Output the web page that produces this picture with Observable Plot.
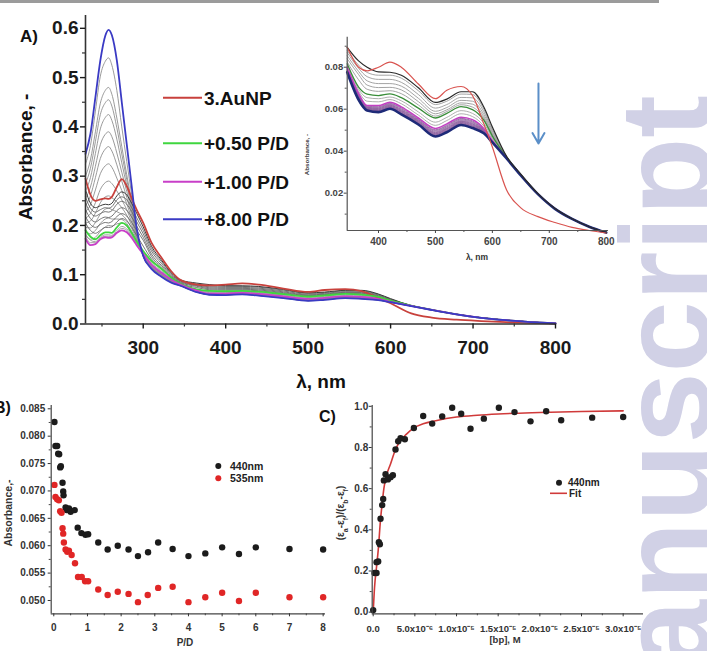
<!DOCTYPE html>
<html><head><meta charset="utf-8">
<script src="https://cdn.jsdelivr.net/npm/d3@7"></script>
<script src="https://cdn.jsdelivr.net/npm/@observablehq/plot@0.6"></script>
<style>
html,body{margin:0;padding:0;background:#fff;}
#fig{position:relative;width:707px;height:651px;overflow:hidden;background:#fff;font-family:"Liberation Sans",Arial,sans-serif;}
#fig svg{position:absolute;left:0;top:0;}
</style></head><body><div id="fig"></div>
<script>
// ---------- Panel A data: UV-Vis spectra ----------
const wavelengths = [230,236,242,248,254,258,262,268,274,280,286,292,300,310,322,334,345,365,380,400,420,440,470,500,520,545,565,585,600,625,650,680,710,740,770,800];
const absRed = [.295,.262,.250,.253,.255,.254,.258,.278,.294,.280,.255,.232,.205,.165,.135,.107,.0895,.0800,.0783,.0800,.0824,.0800,.0720,.0650,.0690,.0708,.0665,.0530,.0420,.0215,.0130,.0088,.0060,.0037,.0022,.0010];
const absGreen = [.190,.177,.172,.180,.186,.186,.185,.196,.205,.200,.185,.168,.148,.128,.112,.094,.0816,.0705,.0672,.0665,.0673,.0655,.0605,.0558,.0580,.0612,.0598,.0548,.0472,.0372,.0287,.0197,.0126,.0077,.0040,.0012];
const absMagenta = [.173,.160,.162,.172,.176,.175,.176,.185,.190,.186,.175,.160,.142,.120,.104,.090,.0800,.0675,.0617,.0617,.0633,.0611,.0558,.0508,.0530,.0562,.0550,.0508,.0450,.0368,.0286,.0196,.0126,.0077,.0040,.0012];
const absBlue = [.345,.386,.460,.535,.585,.597,.586,.535,.450,.365,.280,.195,.138,.112,.096,.084,.0776,.0645,.0594,.0586,.0602,.0575,.0527,.0470,.0490,.0525,.0510,.0485,.0442,.0365,.0284,.0195,.0125,.0077,.0040,.0012];
const absBlack = [.272,.245,.236,.240,.243,.242,.245,.260,.268,.262,.245,.225,.197,.158,.130,.104,.0895,.0830,.0800,.0778,.0776,.0762,.0702,.0632,.0648,.0683,.0683,.0610,.0515,.0375,.0290,.0198,.0127,.0078,.0040,.0012];
// titrations between 3.AuNP and +0.50 P/D
const absGrayA = [
 [.258,.235,.227,.232,.236,.235,.238,.252,.258,.252,.236,.216,.190,.153,.127,.102,.0880,.0810,.0775,.0762,.0762,.0748,.0688,.0622,.0638,.0672,.0670,.0600,.0505,.0374,.0289,.0198,.0127,.0078,.0040,.0012],
 [.246,.226,.219,.224,.228,.227,.230,.243,.249,.243,.228,.208,.183,.148,.123,.100,.0870,.0795,.0755,.0742,.0742,.0728,.0670,.0605,.0622,.0656,.0654,.0588,.0497,.0373,.0288,.0197,.0127,.0078,.0040,.0012],
 [.232,.214,.207,.213,.217,.216,.219,.230,.236,.231,.217,.199,.176,.142,.119,.098,.0855,.0780,.0735,.0722,.0722,.0710,.0652,.0590,.0608,.0642,.0638,.0575,.0488,.0373,.0287,.0197,.0126,.0077,.0040,.0012],
 [.218,.202,.196,.202,.206,.205,.208,.218,.224,.219,.206,.190,.170,.137,.116,.096,.0840,.0765,.0715,.0703,.0704,.0692,.0636,.0578,.0597,.0630,.0624,.0564,.0481,.0372,.0287,.0196,.0126,.0077,.0040,.0012],
 [.205,.190,.184,.190,.196,.196,.197,.207,.214,.209,.196,.180,.158,.132,.113,.095,.0825,.0740,.0695,.0685,.0688,.0674,.0620,.0567,.0589,.0621,.0610,.0556,.0476,.0372,.0286,.0196,.0126,.0077,.0040,.0012]
];
// between +0.50 and +1.00 P/D
const absGrayB = [
 [.183,.170,.167,.176,.181,.181,.180,.190,.198,.193,.180,.164,.145,.124,.108,.092,.0810,.0695,.0655,.0650,.0658,.0640,.0587,.0538,.0561,.0593,.0580,.0533,.0463,.0370,.0286,.0196,.0126,.0077,.0040,.0012],
 [.178,.165,.165,.174,.178,.178,.178,.187,.194,.190,.178,.162,.143,.122,.106,.091,.0805,.0685,.0638,.0635,.0646,.0626,.0572,.0523,.0546,.0578,.0565,.0520,.0457,.0369,.0286,.0196,.0126,.0077,.0040,.0012]
];
// between +1.00 and +8.00 P/D
const absGrayC = [
 [.180,.172,.176,.188,.197,.200,.199,.203,.205,.198,.183,.165,.141,.118,.102,.089,.0796,.0670,.0614,.0612,.0628,.0606,.0553,.0502,.0524,.0556,.0544,.0505,.0449,.0368,.0285,.0196,.0126,.0077,.0040,.0012],
 [.188,.183,.190,.204,.213,.215,.213,.213,.212,.204,.188,.169,.140,.117,.101,.088,.0794,.0668,.0611,.0609,.0625,.0602,.0550,.0499,.0520,.0553,.0540,.0502,.0448,.0367,.0285,.0196,.0126,.0077,.0040,.0012],
 [.196,.195,.206,.223,.233,.235,.232,.228,.222,.211,.194,.172,.140,.116,.100,.088,.0792,.0665,.0609,.0606,.0622,.0598,.0547,.0495,.0516,.0549,.0536,.0500,.0447,.0367,.0285,.0196,.0126,.0077,.0040,.0012],
 [.205,.209,.225,.246,.258,.260,.256,.248,.236,.221,.200,.175,.140,.116,.100,.087,.0789,.0662,.0607,.0603,.0619,.0595,.0544,.0491,.0512,.0545,.0532,.0498,.0446,.0367,.0285,.0196,.0126,.0077,.0040,.0012],
 [.215,.224,.246,.273,.287,.290,.285,.270,.252,.232,.207,.178,.139,.115,.099,.087,.0787,.0659,.0605,.0601,.0617,.0592,.0542,.0488,.0509,.0542,.0529,.0496,.0446,.0366,.0285,.0196,.0126,.0077,.0040,.0012],
 [.228,.242,.272,.305,.321,.325,.318,.296,.271,.244,.214,.181,.139,.115,.099,.086,.0786,.0657,.0603,.0598,.0614,.0589,.0539,.0485,.0506,.0540,.0526,.0494,.0445,.0366,.0285,.0196,.0126,.0077,.0040,.0012],
 [.240,.260,.297,.336,.355,.360,.351,.323,.290,.257,.221,.184,.139,.114,.098,.086,.0784,.0655,.0602,.0596,.0612,.0587,.0537,.0483,.0503,.0537,.0523,.0493,.0445,.0366,.0285,.0196,.0126,.0077,.0040,.0012],
 [.255,.278,.320,.364,.385,.390,.380,.347,.308,.269,.228,.186,.139,.114,.098,.086,.0782,.0653,.0600,.0594,.0610,.0584,.0535,.0480,.0500,.0535,.0520,.0491,.0444,.0366,.0285,.0196,.0126,.0077,.0040,.0012],
 [.270,.297,.346,.396,.419,.425,.413,.375,.327,.281,.235,.189,.138,.114,.098,.085,.0781,.0651,.0599,.0592,.0608,.0582,.0533,.0478,.0498,.0532,.0518,.0490,.0444,.0366,.0285,.0196,.0126,.0077,.0040,.0012],
 [.285,.316,.370,.425,.449,.455,.442,.398,.345,.293,.242,.190,.138,.113,.097,.085,.0779,.0649,.0597,.0590,.0606,.0580,.0531,.0475,.0496,.0530,.0516,.0488,.0443,.0365,.0285,.0196,.0126,.0077,.0040,.0012],
 [.300,.333,.390,.448,.474,.480,.466,.418,.360,.303,.248,.191,.138,.113,.097,.085,.0778,.0648,.0596,.0589,.0605,.0578,.0530,.0473,.0494,.0528,.0514,.0487,.0443,.0365,.0285,.0196,.0126,.0077,.0040,.0012],
 [.325,.362,.432,.503,.533,.540,.525,.474,.400,.330,.262,.193,.138,.113,.097,.084,.0777,.0646,.0595,.0588,.0604,.0577,.0529,.0472,.0492,.0527,.0512,.0486,.0442,.0365,.0285,.0196,.0126,.0077,.0040,.0012]
];
const legendLabelsA = ["3.AuNP", "+0.50 P/D", "+1.00 P/D", "+8.00 P/D"];
const aXTicks = [300,400,500,600,700,800];
const aXMinor = [250,350,450,550,650,750];
const aYTicks = [0,0.1,0.2,0.3,0.4,0.5,0.6];
const aYMinor = [0.05,0.15,0.25,0.35,0.45,0.55];
const insetXTicks = [400,500,600,700,800];
const insetXMinor = [450,550,650,750];
const insetYTicks = [0.02,0.04,0.06,0.08];
const insetYMinor = [0.01,0.03,0.05,0.07,0.09];
const insetArrow = [{lambda: 681, from: 0.0722, to: 0.0437}];

// ---------- Panel B data ----------
const pd440 = [0.02,0.05,0.10,0.13,0.16,0.19,0.21,0.26,0.28,0.29,0.35,0.38,0.45,0.50,0.62,0.71,0.82,0.94,1.02,1.32,1.60,1.90,2.22,2.50,2.80,3.10,3.53,4.00,4.50,5.00,5.50,6.00,7.00,8.00];
const abs440 = [0.0826,0.0782,0.0782,0.0768,0.0767,0.0743,0.0745,0.0715,0.0699,0.0692,0.0670,0.0665,0.0668,0.0662,0.0665,0.0633,0.0623,0.0620,0.0621,0.0606,0.0593,0.0600,0.0593,0.0581,0.0588,0.0606,0.0594,0.0581,0.0586,0.0597,0.0585,0.0597,0.0594,0.0593];
const pd535 = [0.02,0.05,0.10,0.15,0.19,0.23,0.26,0.28,0.30,0.35,0.40,0.45,0.53,0.63,0.72,0.83,0.93,1.02,1.32,1.60,1.90,2.22,2.50,2.79,3.10,3.53,4.00,4.50,5.00,5.50,6.00,7.00,8.00];
const abs535 = [0.0711,0.0689,0.0685,0.0683,0.0663,0.0660,0.0632,0.0622,0.0606,0.0593,0.0589,0.0591,0.0583,0.0568,0.0543,0.0543,0.0535,0.0535,0.0520,0.0510,0.0516,0.0512,0.0497,0.0510,0.0523,0.0525,0.0497,0.0506,0.0514,0.0499,0.0514,0.0506,0.0506];
const bXTicks = [0,1,2,3,4,5,6,7,8];
const bXMinor = [0.5,1.5,2.5,3.5,4.5,5.5,6.5,7.5];
const bYTicks = [0.050,0.055,0.060,0.065,0.070,0.075,0.080,0.085];
const bYMinor = [0.0525,0.0575,0.0625,0.0675,0.0725,0.0775,0.0825];

// ---------- Panel C data ----------
const bpConc = [0,0.16e-6,0.40e-6,0.40e-6,0.60e-6,0.68e-6,0.80e-6,0.88e-6,1.08e-6,1.20e-6,1.28e-6,1.48e-6,1.76e-6,2.08e-6,2.36e-6,2.68e-6,3.00e-6,3.28e-6,3.80e-6,4.88e-6,6.00e-6,7.08e-6,8.28e-6,9.48e-6,10.56e-6,11.68e-6,13.28e-6,15.08e-6,16.96e-6,18.88e-6,20.76e-6,22.56e-6,26.28e-6,30.00e-6];
const ratio440 = [0.01,0.19,0.19,0.243,0.246,0.34,0.33,0.454,0.52,0.55,0.64,0.67,0.645,0.656,0.665,0.79,0.83,0.845,0.84,0.895,0.953,0.916,0.951,0.993,0.964,0.891,0.94,0.993,0.972,0.927,0.976,0.932,0.945,0.948];
const fitConc = [0,0.16e-6,0.40e-6,0.60e-6,0.88e-6,1.08e-6,1.28e-6,1.50e-6,2.08e-6,2.68e-6,3.28e-6,4.00e-6,4.88e-6,6.00e-6,7.50e-6,10e-6,12.5e-6,15e-6,20e-6,25e-6,30e-6];
const fitRatio = [0,0.12,0.22,0.30,0.45,0.53,0.60,0.65,0.72,0.79,0.835,0.865,0.895,0.915,0.93,0.948,0.957,0.963,0.97,0.975,0.978];
const cXTicks = [0,5e-6,1e-5,1.5e-5,2e-5,2.5e-5,3e-5];
const cXLabels = ["0.0","5.0x10\u207B\u2076","1.0x10\u207B\u2075","1.5x10\u207B\u2075","2.0x10\u207B\u2075","2.5x10\u207B\u2075","3.0x10\u207B\u2075"];
const cXMinor = [2.5e-6,7.5e-6,1.25e-5,1.75e-5,2.25e-5,2.75e-5];
const cYTicks = [0,0.2,0.4,0.6,0.8,1.0];
const cYMinor = [0.1,0.3,0.5,0.7,0.9];

// ---------- helpers ----------
const FONT = '"Liberation Sans", Arial, sans-serif';
const AX = "#333";
function toRows(list, minWl) {
  const out = [];
  list.forEach((vals, k) => vals.forEach((a, i) => {
    if (wavelengths[i] >= minWl) out.push({wl: wavelengths[i], a, id: k});
  }));
  return out;
}
const baseStyle = {fontFamily: FONT, fontWeight: "bold", background: "none", overflow: "visible", color: "#1a1a1a"};
const fig = document.getElementById("fig");
const blank = () => "";

// ---------- Panel A main ----------
const L = (list, minWl, stroke, w) => Plot.line(toRows(list, minWl), {x: "wl", y: "a", z: "id", stroke, strokeWidth: w, curve: "monotone-x"});
const plotA = Plot.plot({
  width: 707, height: 400,
  marginLeft: 85, marginRight: 152, marginTop: 15, marginBottom: 76.5,
  style: baseStyle,
  x: {domain: [230, 800]},
  y: {domain: [0, 0.626]},
  marks: [
    L(absGrayC, 0, "#8e8e8e", 0.9),
    L(absGrayB, 0, "#9a9a9a", 0.9),
    L(absGrayA, 0, "#666", 0.9),
    L([absBlack], 0, "#3a3a3a", 1),
    L([absRed], 0, "#c8413c", 1.8),
    L([absGreen], 0, "#3fd63f", 1.8),
    L([absMagenta], 0, "#c83fc8", 1.8),
    L([absBlue], 0, "#3a3ac4", 1.8),
    Plot.ruleX([230], {stroke: AX, strokeWidth: 1.6}),
    Plot.ruleY([0], {stroke: AX, strokeWidth: 1.6}),
    Plot.axisY({ticks: aYTicks, tickSize: 5, tickPadding: 2, fontSize: 19, tickFormat: d3.format(".1f"), label: null, strokeWidth: 1.4, color: "#1a1a1a"}),
    Plot.axisY({ticks: aYMinor, tickSize: 3, tickFormat: blank, label: null, strokeWidth: 1.2, color: AX}),
    Plot.axisX({ticks: aXTicks, tickSize: 5, tickPadding: 11, fontSize: 19, tickFormat: d3.format("d"), label: null, strokeWidth: 1.4, color: "#1a1a1a"}),
    Plot.axisX({ticks: aXMinor, tickSize: 3, tickFormat: blank, label: null, strokeWidth: 1.2, color: AX})
  ]
});
fig.appendChild(plotA);

// ---------- Panel A inset ----------
const plotInset = Plot.plot({
  width: 707, height: 300,
  marginLeft: 346.7, marginRight: 99, marginTop: 36.7, marginBottom: 70,
  style: baseStyle,
  x: {domain: [345, 804]},
  y: {domain: [0.0022, 0.0943]},
  marks: [
    L(absGrayC, 345, "#8a5a9a", 0.8),
    L(absGrayB, 345, "#a6a6a6", 0.9),
    L(absGrayA, 345, "#9a9a9a", 0.9),
    L([absGreen], 345, "#3a8e3a", 1.3),
    L([absMagenta], 345, "#c23fc2", 1.5),
    L([absBlue], 345, "#1e2a78", 2.6),
    L([absBlack], 345, "#2a2a2a", 1.2),
    L([absRed], 345, "#d9534f", 1.2),
    Plot.arrow(insetArrow, {x1: "lambda", x2: "lambda", y1: "from", y2: "to", stroke: "#5b8fc8", strokeWidth: 2, headLength: 9, headAngle: 60}),
    Plot.ruleX([345], {stroke: "#555", strokeWidth: 1.2}),
    Plot.ruleY([0.0022], {stroke: "#555", strokeWidth: 1.2}),
    Plot.axisY({ticks: insetYTicks, tickSize: 3, tickPadding: 1, fontSize: 9.5, tickFormat: d3.format(".2f"), label: null, color: "#444"}),
    Plot.axisY({ticks: insetYMinor, tickSize: 2, tickFormat: blank, label: null, color: "#555"}),
    Plot.axisX({ticks: insetXTicks, tickSize: 3, tickPadding: 4, fontSize: 10, tickFormat: d3.format("d"), label: null, color: "#444"}),
    Plot.axisX({ticks: insetXMinor, tickSize: 2, tickFormat: blank, label: null, color: "#555"})
  ]
});
fig.appendChild(plotInset);

// ---------- Panel B ----------
const plotB = Plot.plot({
  width: 707, height: 651,
  marginLeft: 50.7, marginRight: 382, marginTop: 405, marginBottom: 37.7,
  style: baseStyle,
  x: {domain: [-0.077, 8.07]},
  y: {domain: [0.04757, 0.0856]},
  marks: [
    Plot.dot(pd440.map((p, i) => ({p, a: abs440[i]})), {x: "p", y: "a", r: 3.2, fill: "#1b1b1b"}),
    Plot.dot(pd535.map((p, i) => ({p, a: abs535[i]})), {x: "p", y: "a", r: 3.2, fill: "#e02626"}),
    Plot.ruleX([-0.077], {stroke: "#444", strokeWidth: 1.2}),
    Plot.ruleY([0.04757], {stroke: "#444", strokeWidth: 1.2}),
    Plot.axisY({ticks: bYTicks, tickSize: 3, tickPadding: 3, fontSize: 10, tickFormat: d3.format(".3f"), label: null, color: "#333"}),
    Plot.axisY({ticks: bYMinor, tickSize: 2, tickFormat: blank, label: null, color: "#444"}),
    Plot.axisX({ticks: bXTicks, tickSize: 3, tickPadding: 7, fontSize: 10, tickFormat: d3.format("d"), label: null, color: "#333"}),
    Plot.axisX({ticks: bXMinor, tickSize: 2, tickFormat: blank, label: null, color: "#444"})
  ]
});
fig.appendChild(plotB);

// ---------- Panel C ----------
const plotC = Plot.plot({
  width: 707, height: 651,
  marginLeft: 371.7, marginRight: 64, marginTop: 405, marginBottom: 37.7,
  style: baseStyle,
  x: {domain: [-1.2e-7, 3.244e-5]},
  y: {domain: [-0.008, 1.004]},
  marks: [
    Plot.line(fitConc.map((c, i) => ({c, r: fitRatio[i]})), {x: "c", y: "r", stroke: "#d03a3a", strokeWidth: 1.6, curve: "monotone-x"}),
    Plot.dot(bpConc.map((c, i) => ({c, r: ratio440[i]})), {x: "c", y: "r", r: 3.2, fill: "#1e1e1e"}),
    Plot.ruleX([-1.2e-7], {stroke: "#444", strokeWidth: 1.2}),
    Plot.ruleY([-0.008], {stroke: "#444", strokeWidth: 1.2}),
    Plot.axisY({ticks: cYTicks, tickSize: 3, tickPadding: 1, fontSize: 10, tickFormat: d3.format(".1f"), label: null, color: "#333"}),
    Plot.axisY({ticks: cYMinor, tickSize: 2, tickFormat: blank, label: null, color: "#444"}),
    Plot.axisX({ticks: cXTicks, tickSize: 3, tickPadding: 8, fontSize: 9.5,
      tickFormat: d => cXLabels[cXTicks.findIndex(t => Math.abs(t - d) < 1e-10)], label: null, color: "#333"}),
    Plot.axisX({ticks: cXMinor, tickSize: 2, tickFormat: blank, label: null, color: "#444"})
  ]
});
fig.appendChild(plotC);

// ---------- overlay: labels, legends, watermark ----------
const legColors = ["#c8413c", "#3fd63f", "#c83fc8", "#3a3ac4"];
const legY = [97.7, 143.3, 181.7, 219.3];
const ns = "http://www.w3.org/2000/svg";
const ov = document.createElementNS(ns, "svg");
ov.setAttribute("width", 707); ov.setAttribute("height", 651);
ov.setAttribute("font-family", FONT);
let html = `<rect x="0" y="0" width="659" height="3" fill="#9b9b9b"/>`;
html += `<text x="20" y="42" font-size="17" font-weight="bold" fill="#111">A)</text>`;
html += `<text transform="translate(32,157) rotate(-90)" text-anchor="middle" font-size="19" font-weight="bold" fill="#111">Absorbance, -</text>`;
html += `<text x="321" y="388" text-anchor="middle" font-size="19" font-weight="bold" fill="#111">λ, nm</text>`;
legendLabelsA.forEach((t, i) => {
  html += `<line x1="163" x2="202" y1="${legY[i]}" y2="${legY[i]}" stroke="${legColors[i]}" stroke-width="2"/>`;
  html += `<text x="204" y="${legY[i] + 6.8}" font-size="19" font-weight="bold" fill="#111">${t}</text>`;
});
html += `<text transform="translate(309,154.5) rotate(-90)" text-anchor="middle" font-size="6.2" font-weight="600" fill="#333">Absorbance, -</text>`;
html += `<text x="477" y="260" text-anchor="middle" font-size="8.5" font-weight="bold" fill="#333">λ, nm</text>`;
// Panel B
html += `<text x="-6" y="413" font-size="16" font-weight="bold" fill="#111">B)</text>`;
html += `<text transform="translate(12,513) rotate(-90)" text-anchor="middle" font-size="10.5" font-weight="bold" fill="#333">Absorbance,-</text>`;
html += `<text x="185" y="645.5" text-anchor="middle" font-size="10" font-weight="bold" fill="#333">P/D</text>`;
html += `<circle cx="218.3" cy="466" r="3" fill="#1b1b1b"/><text x="230" y="469.8" font-size="10.5" font-weight="bold" fill="#222">440nm</text>`;
html += `<circle cx="218.3" cy="478.3" r="3" fill="#e02626"/><text x="230" y="482.1" font-size="10.5" font-weight="bold" fill="#222">535nm</text>`;
// Panel C
html += `<text x="319" y="422" font-size="16" font-weight="bold" fill="#111">C)</text>`;
html += `<text transform="translate(344,513) rotate(-90)" text-anchor="middle" font-size="10" font-weight="bold" fill="#333">(ε<tspan baseline-shift="sub" font-size="7">a</tspan>-ε<tspan baseline-shift="sub" font-size="7">f</tspan>)/(ε<tspan baseline-shift="sub" font-size="7">b</tspan>-ε<tspan baseline-shift="sub" font-size="7">f</tspan>)</text>`;
html += `<text x="505" y="642.5" text-anchor="middle" font-size="9.5" font-weight="bold" fill="#333">[bp], M</text>`;
html += `<circle cx="559" cy="482.7" r="3" fill="#1e1e1e"/><text x="568" y="486.3" font-size="10" font-weight="bold" fill="#222">440nm</text>`;
html += `<line x1="550" x2="567" y1="493.3" y2="493.3" stroke="#d03a3a" stroke-width="1.6"/><text x="569" y="496.9" font-size="10" font-weight="bold" fill="#222">Fit</text>`;
// watermark
html += `<text transform="translate(710,95) rotate(-90)" text-anchor="end" font-size="128" font-weight="bold" fill="#d1d1e6">Manuscript</text>`;
ov.innerHTML = html;
fig.appendChild(ov);
</script></body></html>
